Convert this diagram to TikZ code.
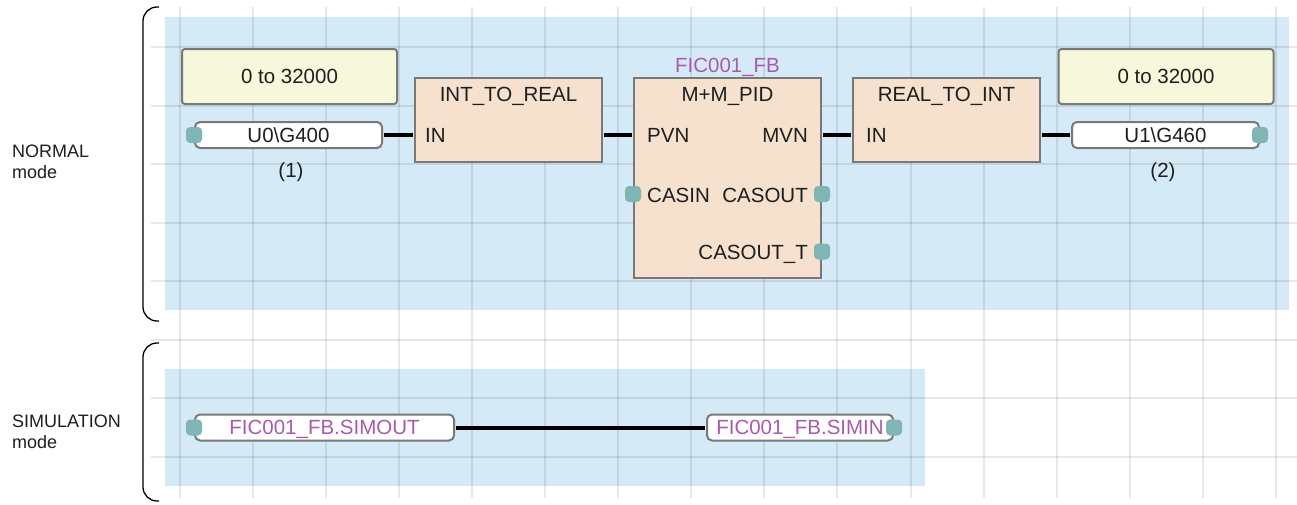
\documentclass[tikz,border=0pt]{standalone}
\usepackage{fontspec}
\setmainfont{Liberation Sans}
\definecolor{bluebg}{RGB}{213,234,247}
\definecolor{yel}{RGB}{247,247,220}
\definecolor{blkc}{RGB}{245,225,205}
\definecolor{bord}{RGB}{120,120,120}
\definecolor{pinc}{RGB}{127,181,181}
\definecolor{purp}{RGB}{170,90,170}
\definecolor{txt}{RGB}{30,30,30}
\begin{document}
\begin{tikzpicture}[x=1pt,y=-1pt,
  fbtext/.style={font=\fontsize{20.5}{24}\selectfont, text=txt},
  yellowbox/.style={draw=bord, line width=2pt, fill=yel, rounded corners=3pt,
    minimum width=215pt, minimum height=55pt, inner sep=0pt, fbtext,
    text height=14.7pt, text depth=0pt},
  varbox/.style={draw=bord, line width=2pt, fill=white, rounded corners=5pt,
    minimum height=26pt, inner sep=0pt, fbtext, text height=14.7pt, text depth=0pt},
  fblock/.style={draw=bord, line width=2pt, fill=blkc, inner sep=0pt},
  pinbox/.style={fill=pinc, rounded corners=4pt, minimum width=16pt,
    minimum height=16pt, inner sep=0pt},
  wire/.style={line width=4pt, black},
  gridline/.style={line width=2pt, black, opacity=0.09},
  bracketline/.style={line width=1.3pt, black, rounded corners=14pt},
  modelabel/.style={font=\fontsize{18}{21}\selectfont, text=txt, align=left,
    anchor=west, inner sep=0pt},
  portlabel/.style={fbtext, inner sep=0pt}
]
\useasboundingbox (0,0) rectangle (1297,504);
% backgrounds
\fill[bluebg] (165,17) rectangle (1289,310);
\fill[bluebg] (165,369) rectangle (925,486);
% grid
\foreach \i in {0,...,15} \draw[gridline] ({180+73.05*\i},7) -- ({180+73.05*\i},498);
\foreach \j in {0,...,7} \draw[gridline] (151,{47+58.5*\j}) -- (1297,{47+58.5*\j});
% brackets
\draw[bracketline] (159,7) -- (143,7) -- (143,321) -- (159,321);
\draw[bracketline] (159,343) -- (143,343) -- (143,501) -- (159,501);
% mode labels
\node[modelabel] (lnormal) at (12,162) {NORMAL\\mode};
\node[modelabel] (lsim) at (12,432) {SIMULATION\\mode};
% constants
\node[yellowbox] (y1) at (289.5,76.5) {0 to 32000};
\node[yellowbox] (y2) at (1166,76.5) {0 to 32000};
% variables
\node[varbox, minimum width=187pt] (v1) at (288.5,135) {U0\textbackslash G400};
\node[varbox, minimum width=187pt] (v2) at (1165.5,135) {U1\textbackslash G460};
\node[varbox, minimum width=259pt, text=purp] (v3) at (324.5,427.5) {FIC001\_FB.SIMOUT};
\node[varbox, minimum width=186pt, text=purp] (v4) at (800,427.5) {FIC001\_FB.SIMIN};
% blocks
\node[fblock, minimum width=187pt, minimum height=84pt] (b1) at (508.5,120) {};
\node[fblock, minimum width=187pt, minimum height=200pt] (b2) at (727.5,178) {};
\node[fblock, minimum width=187pt, minimum height=84pt] (b3) at (946.5,120) {};
% wires
\draw[wire, shorten <=1pt, shorten >=1pt] (v1.east) -- (v1.east -| b1.west);
\draw[wire, shorten <=1pt, shorten >=1pt] (b1.east |- v1.east) -- (b2.west |- v1.east);
\draw[wire, shorten <=1pt, shorten >=1pt] (b2.east |- v1.east) -- (b3.west |- v1.east);
\draw[wire, shorten <=1pt, shorten >=1pt] (b3.east |- v2.west) -- (v2.west);
\draw[wire, shorten <=1pt, shorten >=1pt] (v3.east) -- (v4.west);
% pins
\node[pinbox] (p1) at (v1.west) {};
\node[pinbox] (p2) at (v2.east) {};
\node[pinbox] (p3) at (b2.west |- 0,194) {};
\node[pinbox] (p4) at (b2.east |- 0,194) {};
\node[pinbox] (p5) at (b2.east |- 0,251.5) {};
\node[pinbox] (p6) at (v3.west) {};
\node[pinbox] (p7) at (v4.east) {};
% block texts
\node[portlabel, anchor=base] (t1) at (508.5,101) {INT\_TO\_REAL};
\node[portlabel, anchor=base] (t2) at (727.5,101.5) {M+M\_PID};
\node[portlabel, anchor=base] (t3) at (946.5,101) {REAL\_TO\_INT};
\node[portlabel, anchor=base, text=purp] (fbname) at (727.5,72) {FIC001\_FB};
\node[portlabel, anchor=base west] (in1) at (425,142) {IN};
\node[portlabel, anchor=base west] (pvn) at (647,142) {PVN};
\node[portlabel, anchor=base east] (mvn) at (808,142) {MVN};
\node[portlabel, anchor=base west] (in2) at (866,142) {IN};
\node[portlabel, anchor=base west] (casin) at (647,202) {CASIN};
\node[portlabel, anchor=base east] (casout) at (808,202) {CASOUT};
\node[portlabel, anchor=base east] (casoutt) at (808,259) {CASOUT\_T};
% numbers
\node[portlabel, anchor=base] (n1) at (291,177) {(1)};
\node[portlabel, anchor=base] (n2) at (1163,177) {(2)};
\end{tikzpicture}
\end{document}
